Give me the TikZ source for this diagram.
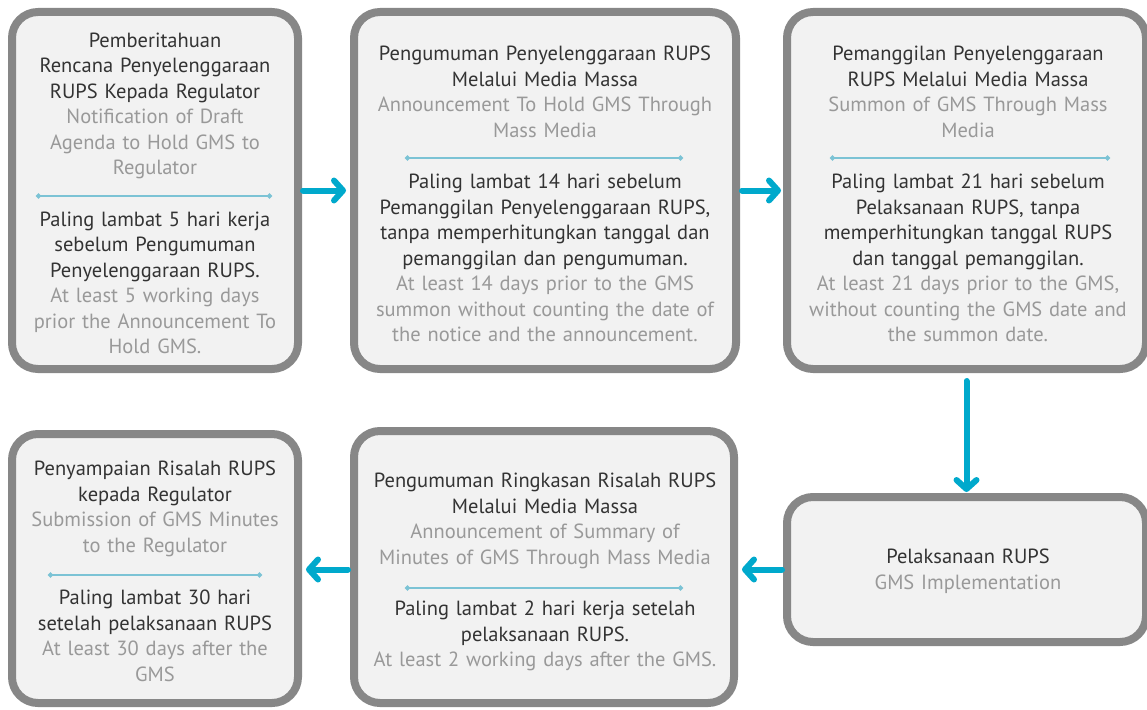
\documentclass[tikz,border=0pt]{standalone}
\usepackage{fontspec}
\setmainfont{PT Sans}
\usetikzlibrary{arrows.meta, positioning}
\definecolor{boxline}{HTML}{878787}
\definecolor{boxfill}{HTML}{F2F2F2}
\definecolor{flowcol}{HTML}{00A9CC}
\definecolor{sepcol}{HTML}{7CC3D5}
\definecolor{txtdark}{HTML}{333333}
\definecolor{txtlight}{HTML}{999999}
\newcommand{\eng}[1]{{\color{txtlight}#1}}
\tikzset{
  box/.style={draw=boxline, fill=boxfill, line width=8pt, rounded corners=26pt},
  txt/.style={align=center, text=txtdark, inner sep=0pt, text width=420pt,
              font=\fontsize{20.5}{25.5}\selectfont},
  flow/.style={-{Straight Barb[round, length=9pt, width=20pt]}, line width=6pt,
               line cap=round, flowcol},
  sepline/.style={{Circle[length=5pt]}-{Circle[length=5pt]}, line width=1.5pt, sepcol},
}

\begin{document}
\begin{tikzpicture}[x=1pt, y=-1pt]
  \useasboundingbox (0,0) rectangle (1147,709);

  % ---------- top row ----------
  \node[box, minimum width=286pt, minimum height=357pt] (b1) at (155, 190.5) {};
  \node[box, minimum width=382pt, minimum height=357pt] (b2) at (545, 190.5) {};
  \node[box, minimum width=359pt, minimum height=357pt] (b3) at (966.5, 190.5) {};

  \node[txt] (b1head) at (155, 106)
    {Pemberitahuan\\Rencana Penyelenggaraan\\RUPS Kepada Regulator\\
     \eng{Notification of Draft\\Agenda to Hold GMS to\\Regulator}};
  \draw[sepline] (36, 196) -- (272, 196);
  \node[txt] (b1note) at (155, 283)
    {Paling lambat 5 hari kerja\\sebelum Pengumuman\\Penyelenggaraan RUPS.\\
     \eng{At least 5 working days\\prior the Announcement To\\Hold GMS.}};

  \node[txt] (b2head) at (545, 92)
    {Pengumuman Penyelenggaraan RUPS\\Melalui Media Massa\\
     \eng{Announcement To Hold GMS Through\\Mass Media}};
  \draw[sepline] (405, 158) -- (683, 158);
  \node[txt] (b2note) at (545, 258)
    {Paling lambat 14 hari sebelum\\Pemanggilan Penyelenggaraan RUPS,\\
     tanpa memperhitungkan tanggal dan\\pemanggilan dan pengumuman.\\
     \eng{At least 14 days prior to the GMS\\summon without counting the date of\\
     the notice and the announcement.}};

  \node[txt] (b3head) at (968, 92)
    {Pemanggilan Penyelenggaraan\\RUPS Melalui Media Massa\\
     \eng{Summon of GMS Through Mass\\Media}};
  \draw[sepline] (830, 158) -- (1110, 158);
  \node[txt] (b3note) at (968, 258)
    {Paling lambat 21 hari sebelum\\Pelaksanaan RUPS, tanpa\\
     memperhitungkan tanggal RUPS\\dan tanggal pemanggilan.\\
     \eng{At least 21 days prior to the GMS,\\without counting the GMS date and\\
     the summon date.}};

  % ---------- bottom row ----------
  \node[box, minimum width=286pt, minimum height=269pt] (b4) at (155, 568.5) {};
  \node[box, minimum width=380pt, minimum height=272pt] (b5) at (544, 567) {};
  \node[box, minimum width=359pt, minimum height=145pt] (b6) at (966.5, 569.5) {};

  \node[txt] (b4head) at (155, 509)
    {Penyampaian Risalah RUPS\\kepada Regulator\\
     \eng{Submission of GMS Minutes\\to the Regulator}};
  \draw[sepline] (48, 575) -- (262, 575);
  \node[txt] (b4note) at (155, 636)
    {Paling lambat 30 hari\\setelah pelaksanaan RUPS\\
     \eng{At least 30 days after the\\GMS}};

  \node[txt] (b5head) at (545, 521)
    {Pengumuman Ringkasan Risalah RUPS\\Melalui Media Massa\\
     \eng{Announcement of Summary of\\Minutes of GMS Through Mass Media}};
  \draw[sepline] (405, 588) -- (683, 588);
  \node[txt] (b5note) at (545, 636)
    {Paling lambat 2 hari kerja setelah\\pelaksanaan RUPS.\\
     \eng{At least 2 working days after the GMS.}};

  \node[txt] (b6head) at (968, 571)
    {Pelaksanaan RUPS\\\eng{GMS Implementation}};

  % ---------- flow ----------
  \draw[flow, shorten <=1pt, shorten >=4pt] (b1) -- (b2);
  \draw[flow, shorten <=2pt, shorten >=2pt] (b2) -- (b3);
  \draw[flow, shorten <=8pt, shorten >=1pt] (b3) -- (b6);
  \draw[flow, shorten <=1pt, shorten >=4pt] (b6.west) -- (b5.east |- b6.west);
  \draw[flow, shorten <=2pt, shorten >=4pt] (b5.west |- b6.west) -- (b4.east |- b6.west);

\end{tikzpicture}
\end{document}
